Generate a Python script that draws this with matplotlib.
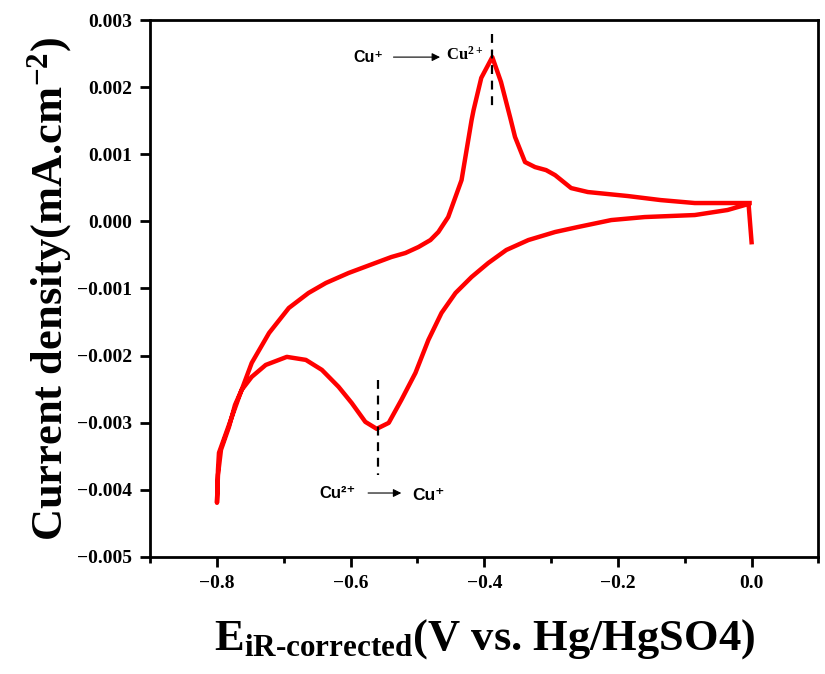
import matplotlib
matplotlib.use("Agg")
import matplotlib.pyplot as plt
from matplotlib.ticker import MultipleLocator

serif = "Liberation Serif"
sans = "Liberation Sans"
plt.rcParams["mathtext.fontset"] = "custom"
plt.rcParams["mathtext.rm"] = serif + ":bold"
plt.rcParams["mathtext.bf"] = serif + ":bold"
plt.rcParams["mathtext.it"] = serif + ":bold"

# CV curve (potential in V, current density in mA.cm^-2)
potential = [
    0.000, -0.0045,
    -0.036, -0.085, -0.160, -0.210, -0.260, -0.294, -0.334, -0.367, -0.394,
    -0.419, -0.443, -0.464, -0.4836, -0.503, -0.524, -0.543, -0.561,
    -0.578, -0.5985, -0.618, -0.643, -0.667, -0.6955, -0.727, -0.748,
    -0.763, -0.773, -0.782, -0.794, -0.7985, -0.800, -0.7985, -0.797,
    -0.782, -0.767, -0.748, -0.722, -0.6925, -0.663, -0.637, -0.603,
    -0.563, -0.539, -0.518, -0.4985, -0.4806, -0.4687,
    -0.454, -0.434, -0.419, -0.416, -0.4045, -0.388, -0.375, -0.361,
    -0.354, -0.339, -0.324, -0.3075, -0.294, -0.270, -0.245, -0.185, -0.136,
    -0.085, -0.003,
]
current = [
    -0.00031, 0.00026,
    0.00017, 0.000095, 0.000065, 0.00002, -0.000084, -0.000158, -0.000278,
    -0.000426, -0.00062, -0.000829, -0.001067, -0.001365, -0.001767, -0.002259,
    -0.002661, -0.003004, -0.003093,
    -0.002989, -0.002706, -0.002467, -0.002214, -0.002065, -0.00202, -0.00214,
    -0.002318, -0.002512, -0.002736, -0.003063, -0.003406, -0.003778, -0.004196,
    -0.003704, -0.00345,
    -0.003034, -0.002616, -0.00211, -0.001663, -0.001291, -0.001067, -0.000918,
    -0.000769, -0.00062, -0.000531, -0.000471, -0.000382, -0.000278, -0.000158,
    0.000065, 0.000616, 0.00151, 0.00166, 0.00214, 0.00245, 0.00208, 0.00154,
    0.00126, 0.000885, 0.00081, 0.000765, 0.00069, 0.000497, 0.000438,
    0.000378, 0.000318, 0.000274, 0.000274,
]

# peak markers: x, y top, y bottom
ox_peak = (-0.388, 0.0028, 0.00166)
red_peak = (-0.5597, -0.00236, -0.00378)

x_ticks = [-0.8, -0.6, -0.4, -0.2, 0.0]
y_ticks = [0.003, 0.002, 0.001, 0.000, -0.001, -0.002, -0.003, -0.004, -0.005]

fig = plt.figure(figsize=(8.25, 6.74), dpi=100)
ax = fig.add_axes([0.182, 0.174, 0.810, 0.796])

ax.plot(potential, current, color="#ff0000", lw=3.2, solid_joinstyle="round")

ax.plot([ox_peak[0], ox_peak[0]], ox_peak[1:], color="black", lw=1.6, ls=(0, (4, 3)))
ax.plot([red_peak[0], red_peak[0]], red_peak[1:], color="black", lw=1.6, ls=(0, (4, 3)))

sans_fam = [sans, "DejaVu Sans"]

# Cu+ -> Cu2+
ax.text(-0.574, 0.00245, "Cu\u207a", fontsize=11.5, fontweight="bold", family=sans_fam,
        ha="center", va="center")
ax.annotate("", xy=(-0.462, 0.00245), xytext=(-0.540, 0.00245),
            arrowprops=dict(arrowstyle="-|>", color="black", lw=0.8, mutation_scale=12))
ax.text(-0.430, 0.00248, "Cu$^{2+}$", fontsize=12, fontweight="bold", family=serif,
        ha="center", va="center")

# Cu2+ -> Cu+
ax.text(-0.620, -0.00405, "Cu\u00b2\u207a", fontsize=12, fontweight="bold", family=sans_fam,
        ha="center", va="center")
ax.annotate("", xy=(-0.520, -0.00405), xytext=(-0.578, -0.00405),
            arrowprops=dict(arrowstyle="-|>", color="black", lw=0.8, mutation_scale=12))
ax.text(-0.484, -0.00408, "Cu\u207a", fontsize=12.5, fontweight="bold", family=sans_fam,
        ha="center", va="center")

ax.set_xlim(-0.9, 0.1)
ax.set_ylim(-0.005, 0.003)
ax.set_xticks(x_ticks)
ax.set_xticklabels([f"{v:.1f}".replace("-", "\u2212") for v in x_ticks])
ax.xaxis.set_minor_locator(MultipleLocator(0.1))
ax.set_yticks(y_ticks)
ax.set_yticklabels([f"{v:.3f}".replace("-", "\u2212") for v in y_ticks])

for lab in ax.get_xticklabels() + ax.get_yticklabels():
    lab.set_family(serif)
    lab.set_fontweight("bold")
    lab.set_fontsize(14)

ax.tick_params(which="major", direction="out", length=7, width=2, pad=6)
ax.tick_params(which="minor", direction="out", length=4, width=2)
for sp in ax.spines.values():
    sp.set_linewidth(2)

ax.set_xlabel("E$_{\\mathbf{iR\\text{-}corrected}}$(V vs. Hg/HgSO4)", fontsize=32,
              fontweight="bold", family=serif, labelpad=18)
ax.set_ylabel("Current density(mA.cm$^{\\mathbf{-2}}$)", fontsize=32,
              fontweight="bold", family=serif, labelpad=2)

fig.savefig("out.png", dpi=100)
